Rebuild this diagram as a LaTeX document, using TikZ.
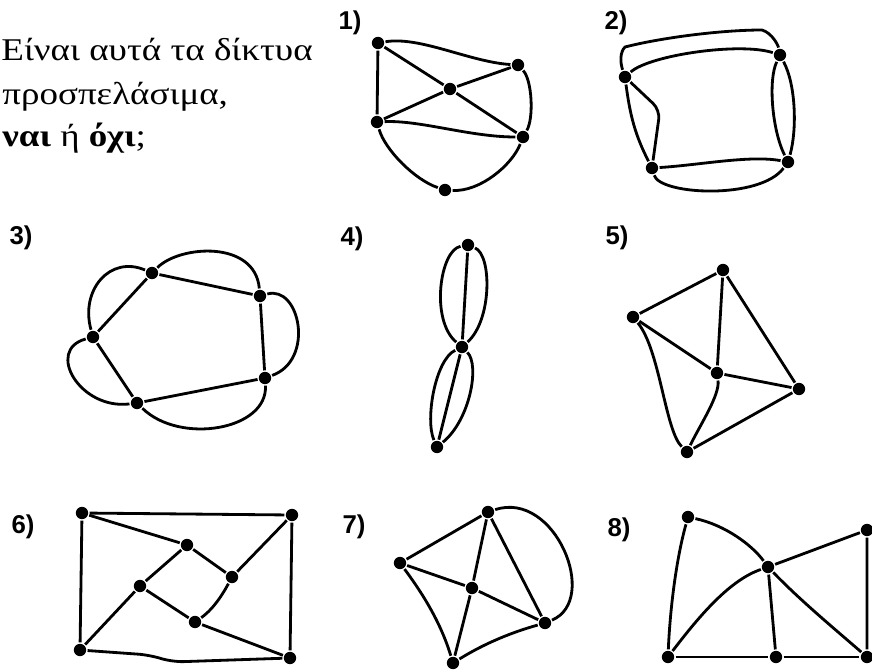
\documentclass[tikz,border=0pt]{standalone}
\usepackage{fontspec}
\setmainfont{Liberation Serif}
\setsansfont{Liberation Sans}
\newfontfamily\wideserif[FakeStretch=1.17]{Liberation Serif}
\usetikzlibrary{positioning}

\begin{document}
\begin{tikzpicture}[
  x=0.03cm, y=-0.03cm, line width=2.4pt, line join=round,
  dot/.style={circle, fill, inner sep=0pt, minimum size=0.37cm},
  num/.style={font=\sffamily\bfseries\fontsize{22}{22}\selectfont, inner sep=0pt},
  ask/.style={anchor=base west, inner sep=0pt, font=\wideserif\fontsize{27}{30}\selectfont}
]
  \useasboundingbox (0,0) rectangle (872,669);

  % question
  \node[ask] (q1) at (0,60) {Είναι αυτά τα δίκτυα};
  \node[ask] (q2) at (1,104) {προσπελάσιμα,};
  \node[ask] (q3) at (1,146) {\textbf{ναι} ή \textbf{όχι};};

  % numbers
  \node[num] (l1) at (350,23) {1)};
  \node[num] (l2) at (616,23) {2)};
  \node[num] (l3) at (21,238) {3)};
  \node[num] (l4) at (352,239) {4)};
  \node[num] (l5) at (617,238) {5)};
  \node[num] (l6) at (23,527) {6)};
  \node[num] (l7) at (354,527) {7)};
  \node[num] (l8) at (619,530) {8)};

  % 1)
  \node[dot] (a1) at (378,43) {};
  \node[dot] (b1) at (518,65) {};
  \node[dot] (c1) at (450,89) {};
  \node[dot] (d1) at (377,122) {};
  \node[dot] (e1) at (523,137) {};
  \node[dot] (f1) at (445,190) {};
  \draw (a1) .. controls (420,36) and (470,62) .. (b1);
  \draw (a1) -- (d1);
  \draw (a1) -- (c1) -- (e1);
  \draw (d1) -- (c1) -- (b1);
  \draw (d1) .. controls (420,120) and (470,137) .. (e1);
  \draw (b1) .. controls (532,80) and (534,118) .. (e1);
  \draw (d1) .. controls (385,150) and (415,180) .. (f1);
  \draw (f1) .. controls (480,192) and (512,165) .. (e1);

  % 2)
  \node[dot] (a2) at (625,77) {};
  \node[dot] (b2) at (780,55) {};
  \node[dot] (c2) at (652,168) {};
  \node[dot] (d2) at (788,162) {};
  \draw (a2) .. controls (650,55) and (740,42) .. (b2);
  \draw (a2) .. controls (620,62) and (620,52) .. (625,47)
        .. controls (660,38) and (720,30) .. (762,30)
        .. controls (772,33) and (778,45) .. (b2);
  \draw (a2) .. controls (630,115) and (635,135) .. (c2);
  \draw[rounded corners=8pt] (a2) -- (660,110) -- (c2);
  \draw (b2) .. controls (796,85) and (797,130) .. (d2);
  \draw (b2) .. controls (768,80) and (772,130) .. (d2);
  \draw (c2) .. controls (700,165) and (750,155) .. (d2);
  \draw (c2) .. controls (660,195) and (760,200) .. (d2);

  % 3)
  \node[dot] (a3) at (152,273) {};
  \node[dot] (b3) at (260,296) {};
  \node[dot] (c3) at (265,378) {};
  \node[dot] (d3) at (137,403) {};
  \node[dot] (e3) at (93,337) {};
  \draw (a3) -- (b3) -- (c3) -- (d3) -- (e3) -- (a3);
  \draw (a3) .. controls (180,245) and (255,240) .. (b3);
  \draw (b3) .. controls (300,285) and (315,360) .. (c3);
  \draw (c3) .. controls (268,430) and (180,445) .. (d3);
  \draw (d3) .. controls (80,410) and (45,350) .. (e3);
  \draw (e3) .. controls (80,290) and (110,255) .. (a3);

  % 4)
  \node[dot] (a4) at (468,245) {};
  \node[dot] (b4) at (462,347) {};
  \node[dot] (c4) at (437,447) {};
  \draw (a4) -- (b4) -- (c4);
  \draw (a4) .. controls (440,250) and (430,320) .. (b4);
  \draw (a4) .. controls (492,255) and (492,320) .. (b4);
  \draw (b4) .. controls (435,360) and (425,420) .. (c4);
  \draw (b4) .. controls (480,365) and (470,420) .. (c4);

  % 5)
  \node[dot] (a5) at (723,270) {};
  \node[dot] (b5) at (633,317) {};
  \node[dot] (c5) at (717,373) {};
  \node[dot] (d5) at (799,389) {};
  \node[dot] (e5) at (687,452) {};
  \draw (b5) -- (a5) -- (d5) -- (e5);
  \draw (a5) -- (c5) -- (d5);
  \draw (b5) -- (c5);
  \draw (c5) .. controls (720,395) and (700,425) .. (e5);
  \draw (b5) .. controls (660,350) and (665,430) .. (e5);

  % 6)
  \node[dot] (a6) at (82,513) {};
  \node[dot] (b6) at (292,515) {};
  \node[dot] (c6) at (80,650) {};
  \node[dot] (d6) at (290,658) {};
  \node[dot] (p6) at (187,545) {};
  \node[dot] (q6) at (232,577) {};
  \node[dot] (r6) at (140,586) {};
  \node[dot] (s6) at (195,622) {};
  \draw (a6) -- (b6) -- (d6);
  \draw (a6) -- (c6);
  \draw[rounded corners=10pt] (c6) -- (150,655) -- (172,662) -- (d6);
  \draw (a6) -- (p6) -- (q6) -- (b6);
  \draw (p6) -- (r6) -- (c6);
  \draw (r6) -- (s6) -- (d6);
  \draw (s6) .. controls (215,608) and (225,590) .. (q6);

  % 7)
  \node[dot] (a7) at (488,512) {};
  \node[dot] (b7) at (400,563) {};
  \node[dot] (c7) at (472,588) {};
  \node[dot] (d7) at (545,623) {};
  \node[dot] (e7) at (453,663) {};
  \draw (a7) -- (b7) -- (c7) -- (d7) -- (a7) -- (c7) -- (e7);
  \draw (b7) .. controls (420,590) and (440,620) .. (e7);
  \draw (e7) .. controls (490,640) and (520,630) .. (d7);
  \draw (a7) .. controls (555,490) and (600,600) .. (d7);

  % 8)
  \node[dot] (a8) at (688,517) {};
  \node[dot] (c8) at (768,567) {};
  \node[dot] (b8) at (668,657) {};
  \node[dot] (m8) at (776,657) {};
  \node[dot] (r8) at (867,657) {};
  \node[dot] (t8) at (867,530) {};
  \draw (a8) .. controls (676,560) and (670,610) .. (b8);
  \draw (a8) .. controls (725,525) and (752,545) .. (c8);
  \draw (c8) .. controls (800,600) and (830,625) .. (r8);
  \draw (b8) .. controls (700,615) and (730,580) .. (c8);
  \draw (c8) -- (t8) -- (r8);
  \draw (c8) -- (m8);
  \draw (b8) -- (m8) -- (r8);
\end{tikzpicture}
\end{document}
